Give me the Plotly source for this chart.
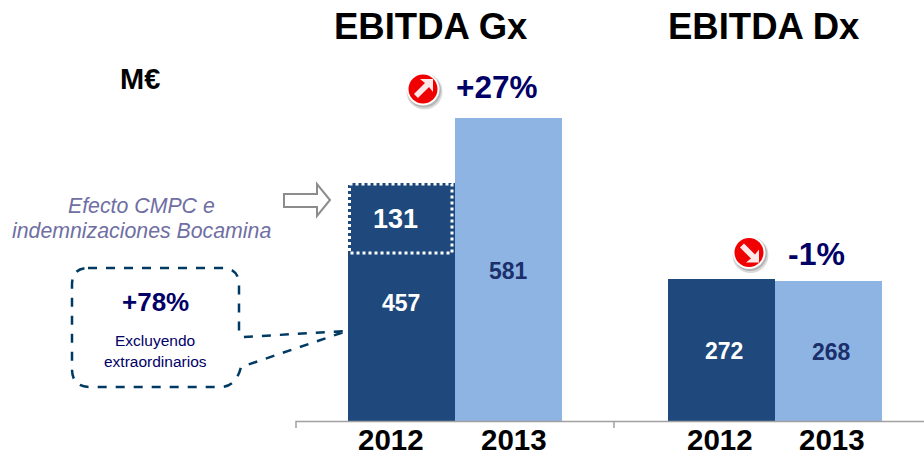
import plotly.graph_objects as go

W, H = 924, 451
FONT = "Liberation Sans"
DARK = "#1F497D"
LIGHT = "#8EB4E3"
NAVY = "#000066"

# data
bar_x = [0, 1, 3, 4]
categories = ["2012", "2013", "2012", "2013"]
base_values = [326, 581, 272, 268]
extra_values = [131, 0, 0, 0]
base_labels = ["457", "581", "272", "268"]
extra_label = "131"
titles = ["EBITDA Gx", "EBITDA Dx"]
changes = ["+27%", "-1%"]

# pixel helpers for decoration
def px(x):
    return x / W
def py(y):
    return 1 - y / H
def path(points, close=False):
    s = "M" + " L".join(f"{px(a):.5f},{py(b):.5f}" for a, b in points)
    return s + (" Z" if close else "")

fig = go.Figure()
colors = [DARK, LIGHT, DARK, LIGHT]
fig.add_bar(x=bar_x, y=base_values, width=1, marker=dict(color=colors, line=dict(width=0)), showlegend=False)
fig.add_bar(x=bar_x, y=extra_values, width=1, marker=dict(color=DARK, line=dict(width=0)), showlegend=False)

shapes = []
# axis line and ticks
shapes.append(dict(type="path", xref="paper", yref="paper",
                   path=path([(296, 428), (296, 421.5), (924, 421.5)]),
                   line=dict(color="#A0A0A0", width=1.5)))
shapes.append(dict(type="line", xref="paper", yref="paper", x0=px(614), x1=px(614), y0=py(421.5), y1=py(428),
                   line=dict(color="#A0A0A0", width=1.5)))
# dotted box around the extraordinary portion
shapes.append(dict(type="rect", xref="paper", yref="paper", x0=px(349.5), x1=px(452), y0=py(184), y1=py(253),
                   line=dict(color="white", width=3, dash="dot")))
# hollow arrow
shapes.append(dict(type="path", xref="paper", yref="paper",
                   path=path([(284, 194), (317, 194), (317, 184), (330, 200), (317, 216), (317, 207), (284, 207)], True),
                   fillcolor="white", line=dict(color="#8C8C8C", width=2)))
# callout
callout = ("M{},{} ".format(px(88), py(268)) +
           "L{},{} ".format(px(222), py(268)) +
           "Q{},{} {},{} ".format(px(239), py(268), px(239), py(285)) +
           "L{},{} ".format(px(239), py(333)) +
           "L{},{} ".format(px(243), py(337)) +
           "L{},{} ".format(px(347), py(331)) +
           "L{},{} ".format(px(241), py(367)) +
           "Q{},{} {},{} ".format(px(236), py(387), px(220), py(387)) +
           "L{},{} ".format(px(90), py(387)) +
           "Q{},{} {},{} ".format(px(72), py(387), px(72), py(369)) +
           "L{},{} ".format(px(72), py(285)) +
           "Q{},{} {},{}".format(px(72), py(268), px(88), py(268)))
shapes.append(dict(type="path", xref="paper", yref="paper", path=callout,
                   line=dict(color="#003A63", width=2.5, dash="dash")))

def circle(cx, cy, r, fill):
    return dict(type="circle", xref="paper", yref="paper", x0=px(cx - r), x1=px(cx + r),
                y0=py(cy + r), y1=py(cy - r), fillcolor=fill, line=dict(width=0))

def icon(cx, cy, up):
    out = [circle(cx + 1.5, cy + 2.5, 18, "#DADADA"), circle(cx + 1, cy + 1.5, 17, "#B4B4B4"),
           circle(cx, cy, 16.5, "white"), circle(cx, cy, 14.5, "#F00000")]
    s = -1 if up else 1
    pts = [(-9, s * -5), (2, s * 6), (-3, s * 10), (10, s * 10), (10, s * -3), (6, s * 2), (-5, s * -9)]
    out.append(dict(type="path", xref="paper", yref="paper",
                    path=path([(cx + a, cy + b) for a, b in pts], True),
                    fillcolor="#FCEAEA", line=dict(width=0)))
    return out

shapes += icon(423, 89, True)
shapes += icon(749, 252.5, False)

def note(text, x, y, size, color, bold=True, italic=False):
    t = f"<b>{text}</b>" if bold else text
    if italic:
        t = f"<i>{t}</i>"
    return dict(text=t, xref="paper", yref="paper", x=px(x), y=py(y), xanchor="center", yanchor="middle",
                showarrow=False, font=dict(family=FONT, size=size, color=color))

ann = [
    note(titles[0], 431, 27, 36.5, "black"),
    note(titles[1], 764, 27, 36.5, "black"),
    note("M€", 140, 79, 29, "black"),
    note(changes[0], 497, 87, 31.5, NAVY),
    note(changes[1], 816, 254, 32, NAVY),
    note(extra_label, 395.5, 219, 27, "white"),
    note(base_labels[0], 401, 303, 23, "white"),
    note(base_labels[1], 508, 271, 23, "#1B2F6B"),
    note(base_labels[2], 724, 351, 23, "white"),
    note(base_labels[3], 831, 352, 23, "#1B2F6B"),
    note("Efecto CMPC e", 141, 206, 21.3, "#6F6FA3", bold=False, italic=True),
    note("indemnizaciones Bocamina", 141, 231, 21.3, "#6F6FA3", bold=False, italic=True),
    note("+78%", 155, 302, 26, NAVY),
    note("Excluyendo", 155, 340, 15.5, NAVY, bold=False),
    note("extraordinarios", 155, 361, 15.5, NAVY, bold=False),
]
for lab, xp in zip(categories, [391, 514, 720, 832]):
    ann.append(note(lab, xp, 439, 29.5, "black"))

UNIT = 106.75
fig.update_layout(
    width=W, height=H, margin=dict(l=0, r=0, t=0, b=0),
    paper_bgcolor="white", plot_bgcolor="white", barmode="stack", bargap=0,
    xaxis=dict(range=[(0 - 401.5) / UNIT, (924 - 401.5) / UNIT], visible=False, fixedrange=True),
    yaxis=dict(range=[(421 - 451) / 0.5215, 421 / 0.5215], visible=False, fixedrange=True),
    shapes=shapes, annotations=ann, showlegend=False,
)
fig.write_html("out.html", config=dict(displayModeBar=False),
               post_script="document.body.style.margin='0';document.body.style.overflow='hidden';")
